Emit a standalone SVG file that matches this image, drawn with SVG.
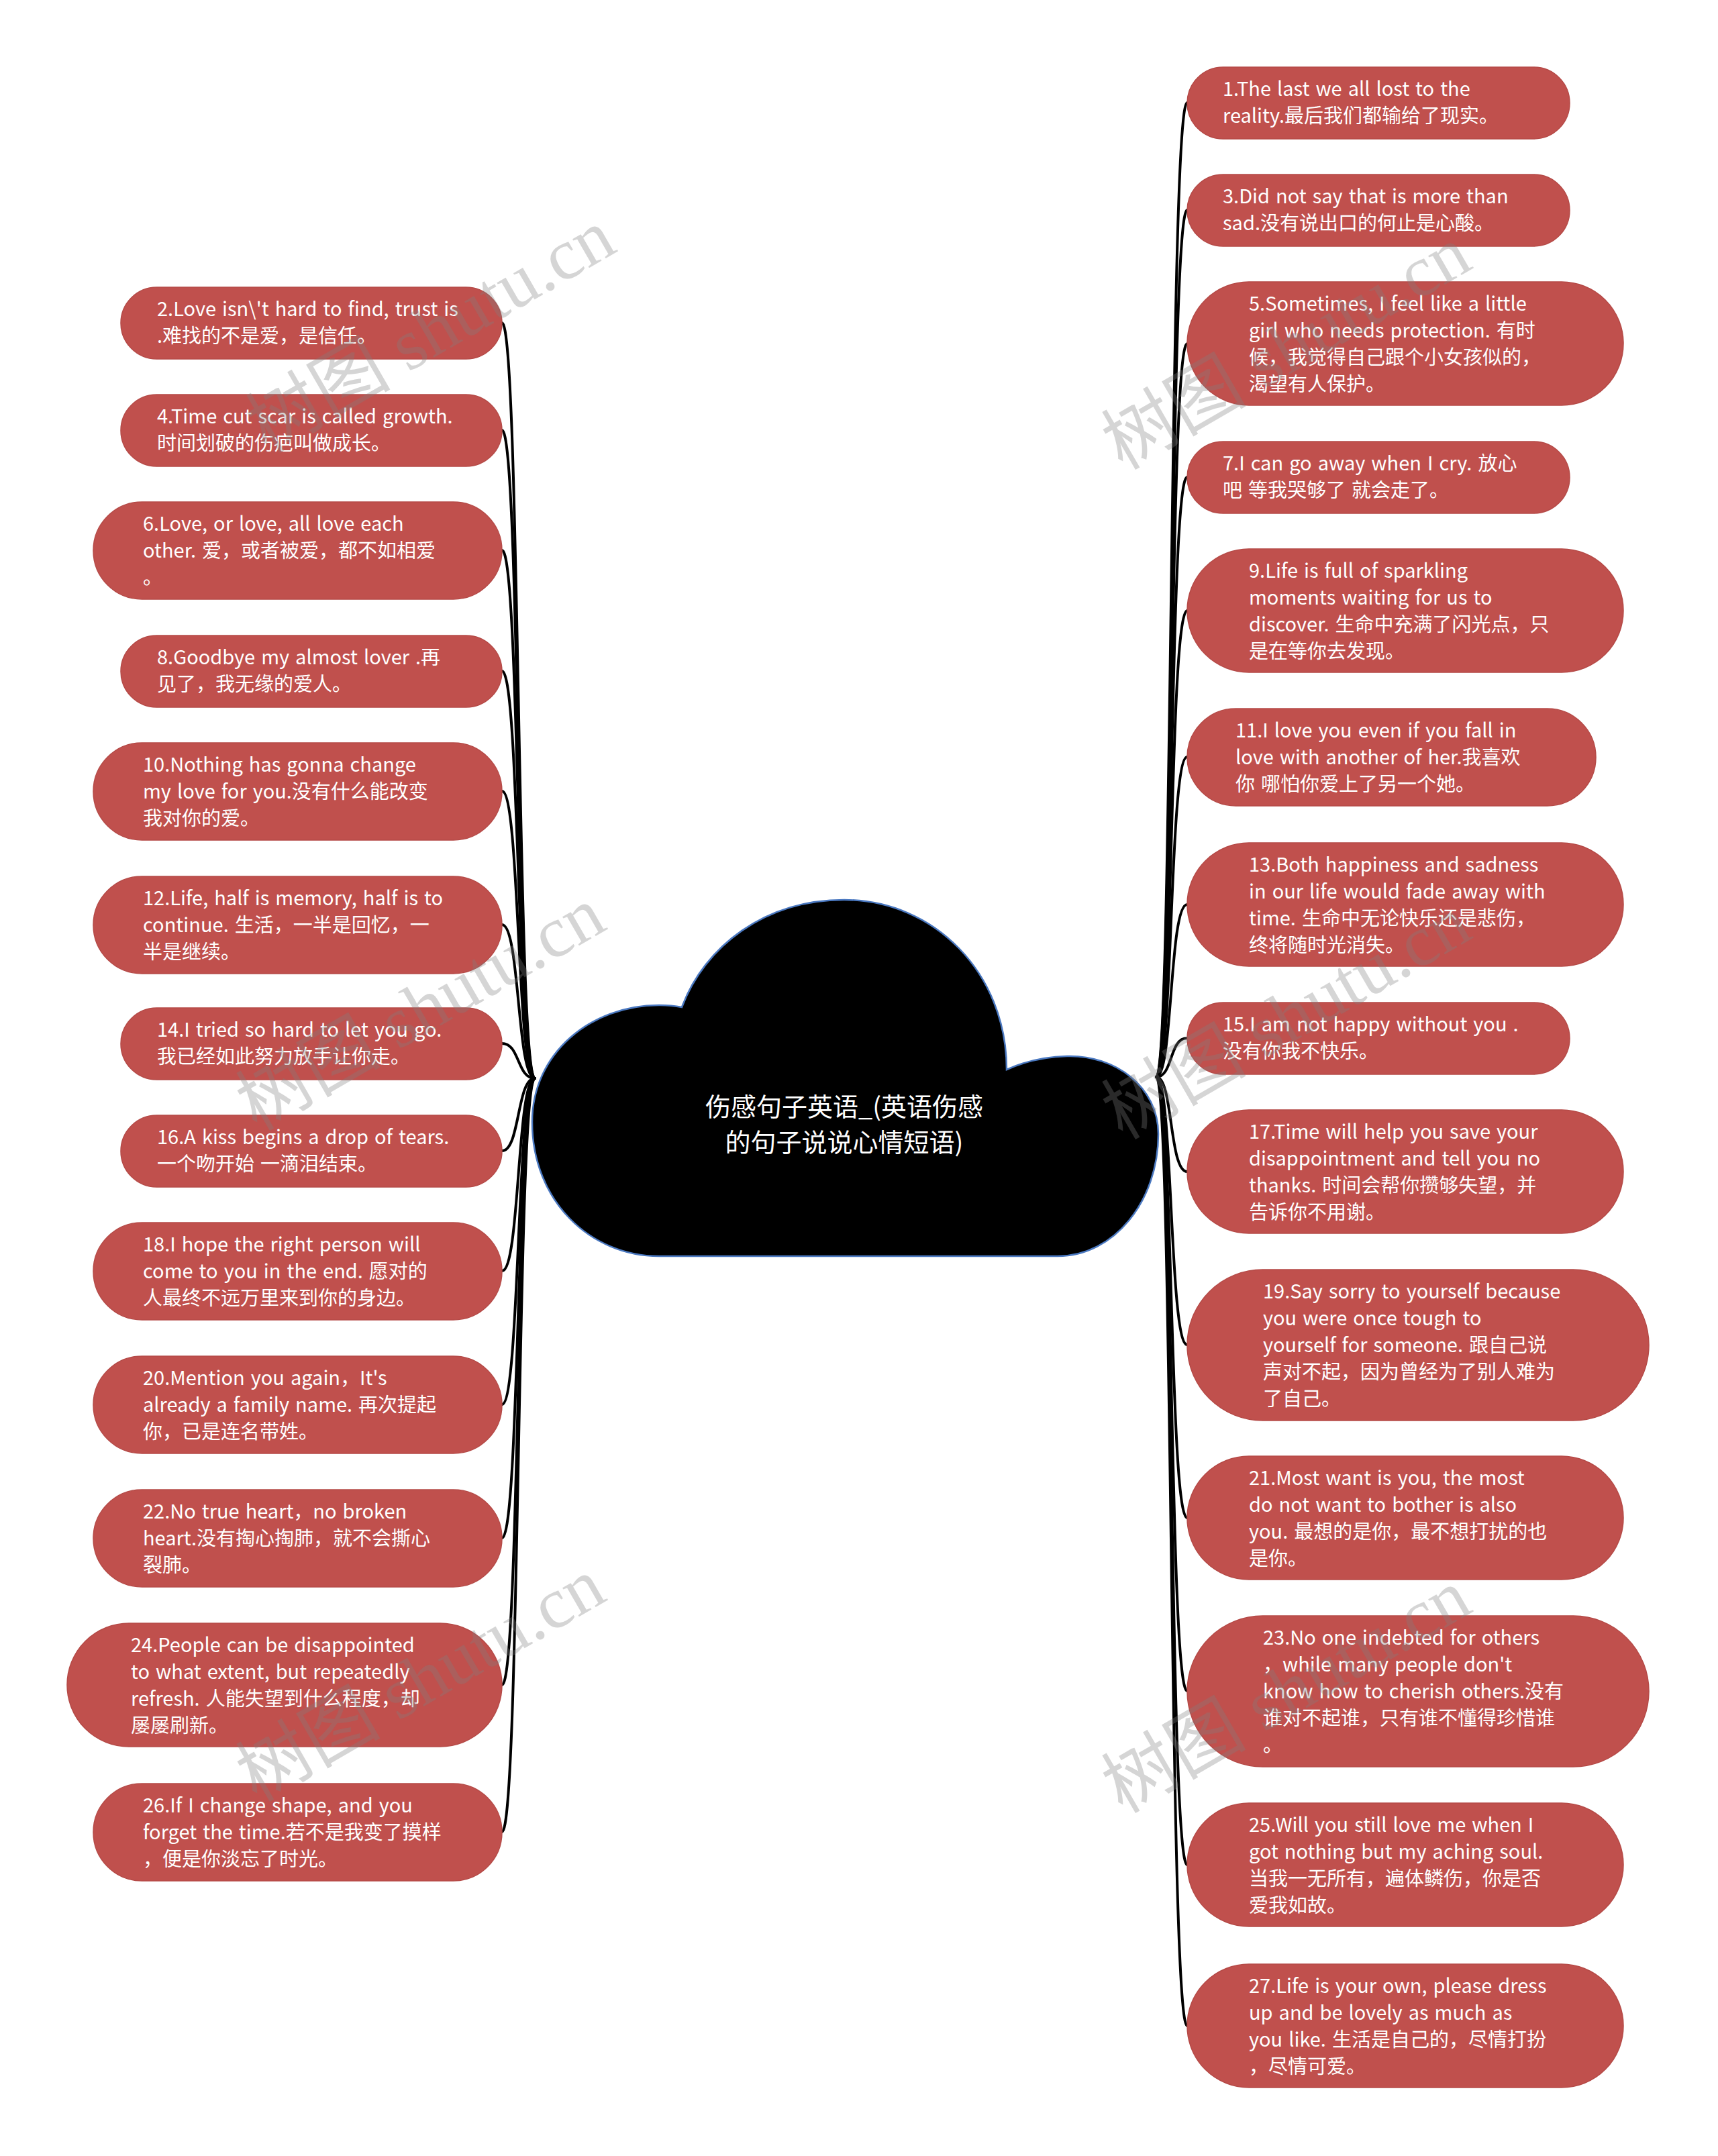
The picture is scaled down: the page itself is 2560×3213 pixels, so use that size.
<svg xmlns="http://www.w3.org/2000/svg" width="2560" height="3213" viewBox="0 0 2560 3213" xml:space="preserve">
<style>
.bg{fill:#fff}
.node rect{fill:#c0504d;stroke:#b54a47;stroke-width:1.5}
.node text{font-family:"Noto Sans CJK SC","Noto Sans",sans-serif;font-size:29px;fill:#fff;word-spacing:2.5px}
.conn path{fill:none;stroke:#000;stroke-width:4;stroke-linecap:round}
.center path{fill:#000;stroke:#4a78c0;stroke-width:2.5}
.center text{font-family:"Noto Sans CJK SC","Noto Sans",sans-serif;font-size:38px;fill:#fff;text-anchor:middle}
.wm text{font-family:"Liberation Serif","Noto Sans CJK SC",serif;font-size:108px;fill:#808080;fill-opacity:0.33;text-anchor:middle}
</style>
<rect class="bg" x="0" y="0" width="2560" height="3213"/>
<g id="connectors" class="conn">
<path d="M748,481 C775,481 770,1607 797,1607"/>
<path d="M748,641 C775,641 770,1607 797,1607"/>
<path d="M748,820 C775,820 770,1607 797,1607"/>
<path d="M748,1000 C775,1000 770,1607 797,1607"/>
<path d="M748,1179 C775,1179 770,1607 797,1607"/>
<path d="M748,1378 C775,1378 770,1607 797,1607"/>
<path d="M748,1555 C775,1555 770,1607 797,1607"/>
<path d="M748,1715 C775,1715 770,1607 797,1607"/>
<path d="M748,1894 C775,1894 770,1607 797,1607"/>
<path d="M748,2093 C775,2093 770,1607 797,1607"/>
<path d="M748,2292 C775,2292 770,1607 797,1607"/>
<path d="M748,2511 C775,2511 770,1607 797,1607"/>
<path d="M748,2730 C775,2730 770,1607 797,1607"/>
<path d="M1769,153 C1742,153 1748,1605 1723,1605"/>
<path d="M1769,313 C1742,313 1748,1605 1723,1605"/>
<path d="M1769,512 C1742,512 1748,1605 1723,1605"/>
<path d="M1769,711 C1742,711 1748,1605 1723,1605"/>
<path d="M1769,910 C1742,910 1748,1605 1723,1605"/>
<path d="M1769,1128 C1742,1128 1748,1605 1723,1605"/>
<path d="M1769,1348 C1742,1348 1748,1605 1723,1605"/>
<path d="M1769,1547 C1742,1547 1748,1605 1723,1605"/>
<path d="M1769,1746 C1742,1746 1748,1605 1723,1605"/>
<path d="M1769,2004 C1742,2004 1748,1605 1723,1605"/>
<path d="M1769,2262 C1742,2262 1748,1605 1723,1605"/>
<path d="M1769,2520 C1742,2520 1748,1605 1723,1605"/>
<path d="M1769,2779 C1742,2779 1748,1605 1723,1605"/>
<path d="M1769,3019 C1742,3019 1748,1605 1723,1605"/>
</g>
<g id="center" class="center">
<path d="M982,1872 L1576,1872 C1660,1872 1726,1790 1726,1690 C1726,1620 1662,1572 1590,1574 C1552,1575 1522,1584 1500,1594 C1500,1450 1392,1341 1258,1341 C1140,1341 1050,1410 1016,1501 C1006,1499 995,1498 982,1498 C880,1498 793,1570 793,1672 C793,1790 880,1872 982,1872 Z"/>
<text x="1258" y="1663">伤感句子英语_(英语伤感</text>
<text x="1258" y="1716">的句子说说心情短语)</text>
</g>
<g id="n2" class="node"><rect x="180" y="428" width="568" height="107" rx="53.5"/><text x="234" y="471">2.Love isn\'t hard to find, trust is</text><text x="234" y="511">.难找的不是爱，是信任。</text></g>
<g id="n4" class="node"><rect x="180" y="588" width="568" height="107" rx="53.5"/><text x="234" y="631">4.Time cut scar is called growth.</text><text x="234" y="671">时间划破的伤疤叫做成长。</text></g>
<g id="n6" class="node"><rect x="139" y="748" width="609" height="145" rx="72.5"/><text x="213" y="791">6.Love, or love, all love each</text><text x="213" y="831">other. 爱，或者被爱，都不如相爱</text><text x="213" y="871">。</text></g>
<g id="n8" class="node"><rect x="180" y="947" width="568" height="107" rx="53.5"/><text x="234" y="990">8.Goodbye my almost lover .再</text><text x="234" y="1030">见了，我无缘的爱人。</text></g>
<g id="n10" class="node"><rect x="139" y="1107" width="609" height="145" rx="72.5"/><text x="213" y="1150">10.Nothing has gonna change</text><text x="213" y="1190">my love for you.没有什么能改变</text><text x="213" y="1230">我对你的爱。</text></g>
<g id="n12" class="node"><rect x="139" y="1306" width="609" height="145" rx="72.5"/><text x="213" y="1349">12.Life, half is memory, half is to</text><text x="213" y="1389"> continue. 生活，一半是回忆，一</text><text x="213" y="1429">半是继续。</text></g>
<g id="n14" class="node"><rect x="180" y="1502" width="568" height="107" rx="53.5"/><text x="234" y="1545">14.I tried so hard to let you go.</text><text x="234" y="1585">我已经如此努力放手让你走。</text></g>
<g id="n16" class="node"><rect x="180" y="1662" width="568" height="107" rx="53.5"/><text x="234" y="1705">16.A kiss begins a drop of tears.</text><text x="234" y="1745">一个吻开始 一滴泪结束。</text></g>
<g id="n18" class="node"><rect x="139" y="1822" width="609" height="145" rx="72.5"/><text x="213" y="1865">18.I hope the right person will</text><text x="213" y="1905">come to you in the end. 愿对的</text><text x="213" y="1945">人最终不远万里来到你的身边。</text></g>
<g id="n20" class="node"><rect x="139" y="2021" width="609" height="145" rx="72.5"/><text x="213" y="2064">20.Mention you again，It's</text><text x="213" y="2104">already a family name. 再次提起</text><text x="213" y="2144">你，已是连名带姓。</text></g>
<g id="n22" class="node"><rect x="139" y="2220" width="609" height="145" rx="72.5"/><text x="213" y="2263">22.No true heart，no broken</text><text x="213" y="2303">heart.没有掏心掏肺，就不会撕心</text><text x="213" y="2343">裂肺。</text></g>
<g id="n24" class="node"><rect x="100" y="2419" width="648" height="184" rx="92"/><text x="195" y="2462">24.People can be disappointed</text><text x="195" y="2502">to what extent, but repeatedly</text><text x="195" y="2542">refresh. 人能失望到什么程度，却</text><text x="195" y="2582">屡屡刷新。</text></g>
<g id="n26" class="node"><rect x="139" y="2658" width="609" height="145" rx="72.5"/><text x="213" y="2701">26.If I change shape, and you</text><text x="213" y="2741">forget the time.若不是我变了摸样</text><text x="213" y="2781">，便是你淡忘了时光。</text></g>
<g id="n1" class="node"><rect x="1769" y="100" width="570" height="107" rx="53.5"/><text x="1822" y="143">1.The last we all lost to the</text><text x="1822" y="183">reality.最后我们都输给了现实。</text></g>
<g id="n3" class="node"><rect x="1769" y="260" width="570" height="107" rx="53.5"/><text x="1822" y="303">3.Did not say that is more than</text><text x="1822" y="343">sad.没有说出口的何止是心酸。</text></g>
<g id="n5" class="node"><rect x="1769" y="420" width="650" height="184" rx="92"/><text x="1861" y="463">5.Sometimes, I feel like a little</text><text x="1861" y="503">girl who needs protection. 有时</text><text x="1861" y="543">候，我觉得自己跟个小女孩似的，</text><text x="1861" y="583">渴望有人保护。</text></g>
<g id="n7" class="node"><rect x="1769" y="658" width="570" height="107" rx="53.5"/><text x="1822" y="701">7.I can go away when I cry. 放心</text><text x="1822" y="741">吧 等我哭够了 就会走了。</text></g>
<g id="n9" class="node"><rect x="1769" y="818" width="650" height="184" rx="92"/><text x="1861" y="861">9.Life is full of sparkling</text><text x="1861" y="901">moments waiting for us to</text><text x="1861" y="941">discover. 生命中充满了闪光点，只</text><text x="1861" y="981">是在等你去发现。</text></g>
<g id="n11" class="node"><rect x="1769" y="1056" width="609" height="145" rx="72.5"/><text x="1841" y="1099">11.I love you even if you fall in</text><text x="1841" y="1139">love with another of her.我喜欢</text><text x="1841" y="1179">你 哪怕你爱上了另一个她。</text></g>
<g id="n13" class="node"><rect x="1769" y="1256" width="650" height="184" rx="92"/><text x="1861" y="1299">13.Both happiness and sadness</text><text x="1861" y="1339">in our life would fade away with</text><text x="1861" y="1379"> time. 生命中无论快乐还是悲伤，</text><text x="1861" y="1419">终将随时光消失。</text></g>
<g id="n15" class="node"><rect x="1769" y="1494" width="570" height="107" rx="53.5"/><text x="1822" y="1537">15.I am not happy without you .</text><text x="1822" y="1577">没有你我不快乐。</text></g>
<g id="n17" class="node"><rect x="1769" y="1654" width="650" height="184" rx="92"/><text x="1861" y="1697">17.Time will help you save your</text><text x="1861" y="1737">disappointment and tell you no</text><text x="1861" y="1777">thanks. 时间会帮你攒够失望，并</text><text x="1861" y="1817">告诉你不用谢。</text></g>
<g id="n19" class="node"><rect x="1769" y="1892" width="688" height="225" rx="112.5"/><text x="1882" y="1935">19.Say sorry to yourself because</text><text x="1882" y="1975"> you were once tough to</text><text x="1882" y="2015">yourself for someone. 跟自己说</text><text x="1882" y="2055">声对不起，因为曾经为了别人难为</text><text x="1882" y="2095">了自己。</text></g>
<g id="n21" class="node"><rect x="1769" y="2170" width="650" height="184" rx="92"/><text x="1861" y="2213">21.Most want is you, the most</text><text x="1861" y="2253">do not want to bother is also</text><text x="1861" y="2293">you. 最想的是你，最不想打扰的也</text><text x="1861" y="2333">是你。</text></g>
<g id="n23" class="node"><rect x="1769" y="2408" width="688" height="225" rx="112.5"/><text x="1882" y="2451">23.No one indebted for others</text><text x="1882" y="2491">，while many people don't</text><text x="1882" y="2531">know how to cherish others.没有</text><text x="1882" y="2571">谁对不起谁，只有谁不懂得珍惜谁</text><text x="1882" y="2611">。</text></g>
<g id="n25" class="node"><rect x="1769" y="2687" width="650" height="184" rx="92"/><text x="1861" y="2730">25.Will you still love me when I</text><text x="1861" y="2770">got nothing but my aching soul.</text><text x="1861" y="2810">当我一无所有，遍体鳞伤，你是否</text><text x="1861" y="2850">爱我如故。</text></g>
<g id="n27" class="node"><rect x="1769" y="2927" width="650" height="184" rx="92"/><text x="1861" y="2970">27.Life is your own, please dress</text><text x="1861" y="3010"> up and be lovely as much as</text><text x="1861" y="3050">you like. 生活是自己的，尽情打扮</text><text x="1861" y="3090">，尽情可爱。</text></g>
<g id="watermarks" class="wm">
<text transform="translate(660,525) rotate(-30)">树图 shutu.cn</text>
<text transform="translate(645,1535) rotate(-30)">树图 shutu.cn</text>
<text transform="translate(645,2535) rotate(-30)">树图 shutu.cn</text>
<text transform="translate(1935,550) rotate(-30)">树图 shutu.cn</text>
<text transform="translate(1935,1548) rotate(-30)">树图 shutu.cn</text>
<text transform="translate(1935,2552) rotate(-30)">树图 shutu.cn</text>
</g>
</svg>
